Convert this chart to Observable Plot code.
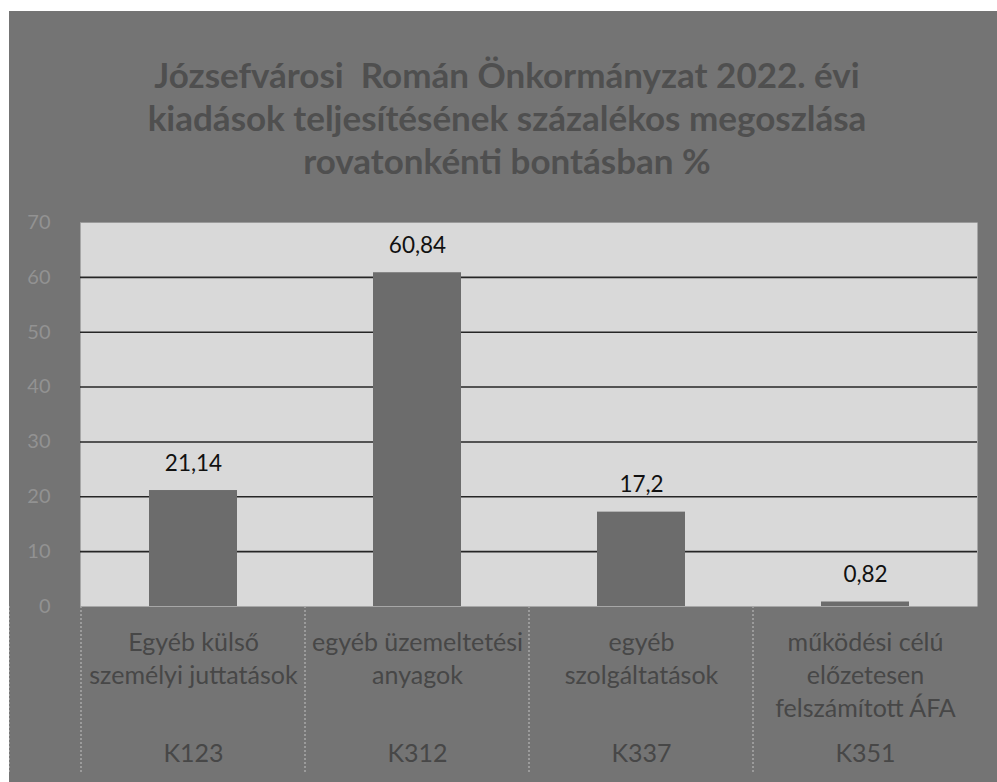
<!DOCTYPE html>
<html>
<head>
<meta charset="utf-8">
<script src="https://cdn.jsdelivr.net/npm/d3@7"></script>
<script src="https://cdn.jsdelivr.net/npm/@observablehq/plot@0.6"></script>
<style>
  html, body { margin: 0; padding: 0; background: #ffffff; }
  #fig {
    position: absolute; left: 9px; top: 11px; width: 988px; height: 771px;
    background: #747474; overflow: hidden; color: #4f4f4f;
  }
  #title {
    height: 180px; box-sizing: border-box; padding-top: 42px; padding-left: 8px;
    text-align: center; font-family: Lato, "Open Sans", sans-serif; font-weight: bold;
    font-size: 35px; line-height: 43px; color: #4f4f4f; white-space: nowrap;
  }
  svg { display: block; }
</style>
</head>
<body>
<div id="fig">
  <div id="title">Józsefvárosi&nbsp; Román Önkormányzat 2022. évi<br>kiadások teljesítésének százalékos megoszlása<br>rovatonkénti bontásban %</div>
  <div id="chart"></div>
</div>
<script>
const codes = ["K123", "K312", "K337", "K351"];
const names = [
  "Egyéb külső\nszemélyi juttatások",
  "egyéb üzemeltetési\nanyagok",
  "egyéb\nszolgáltatások",
  "működési célú\nelőzetesen\nfelszámított ÁFA"
];
const values = [21.14, 60.84, 17.2, 0.82];
const yTicks = [0, 10, 20, 30, 40, 50, 60, 70];
const gridTicks = [10, 20, 30, 40, 50, 60];

const data = codes.map((c, i) => ({code: c, name: names[i], value: values[i]}));
const fmt = v => String(v).replace(".", ",");

// dividers between categories in the axis area, using the x band scale
function dividers(index, scales, values, dims) {
  const g = document.createElementNS("http://www.w3.org/2000/svg", "g");
  const bw = scales.x.bandwidth;
  const xs = codes.map(c => scales.x(c)).concat([scales.x(codes[codes.length - 1]) + bw]);
  const y0 = dims.height - dims.marginBottom;
  for (const x of xs) {
    const l = document.createElementNS("http://www.w3.org/2000/svg", "line");
    l.setAttribute("x1", x); l.setAttribute("x2", x);
    l.setAttribute("y1", y0); l.setAttribute("y2", y0 + 166);
    l.setAttribute("stroke", "#a8a8a8");
    l.setAttribute("stroke-width", 1.5);
    l.setAttribute("stroke-dasharray", "2,2");
    g.appendChild(l);
  }
  return g;
}

const chart = Plot.plot({
  width: 988,
  height: 591,
  marginLeft: 71,
  marginRight: 20,
  marginTop: 31,
  marginBottom: 176,
  style: {background: "transparent", color: "#4f4f4f", fontFamily: "Lato, 'Open Sans', sans-serif"},
  x: {domain: codes, padding: 0, axis: null},
  y: {domain: [0, 70], axis: null},
  marks: [
    Plot.frame({fill: "#d9d9d9", stroke: "none"}),
    Plot.ruleY(gridTicks, {stroke: "#262626", strokeWidth: 1.6}),
    Plot.ruleY([70], {stroke: "#9a9a9a", strokeWidth: 1}),
    Plot.barY(data, {x: "code", y: "value", fill: "#6c6c6c", insetLeft: 68, insetRight: 68}),
    Plot.text(data, {x: "code", y: "value", text: d => fmt(d.value), dy: -27,
      fontSize: 22.5, fill: "#111111"}),
    Plot.axisY({ticks: yTicks, tickSize: 0, tickPadding: 30, fontSize: 20,
      fill: "#929292", label: null}),
    Plot.text(data, {x: "code", text: "name", frameAnchor: "bottom", lineAnchor: "top",
      dy: 21, fontSize: 25, lineHeight: 1.32, fill: "#474747"}),
    Plot.text(data, {x: "code", text: "code", frameAnchor: "bottom", lineAnchor: "top",
      dy: 138, fontSize: 25, fill: "#474747"}),
    dividers
  ]
});
document.getElementById("chart").appendChild(chart);
</script>
</body>
</html>
